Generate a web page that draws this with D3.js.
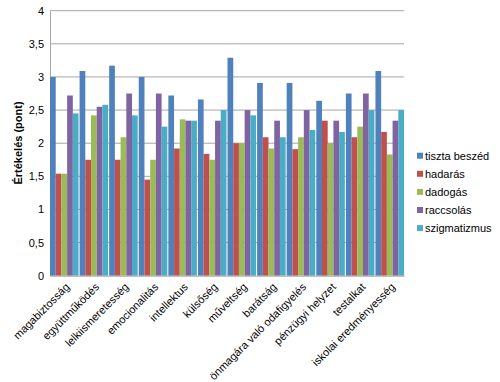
<!DOCTYPE html>
<html>
<head>
<meta charset="utf-8">
<script src="https://cdn.jsdelivr.net/npm/d3@7"></script>
<style>
body{margin:0;background:#fff;}
text{font-family:"Liberation Sans",Arial,sans-serif;}
</style>
</head>
<body>
<svg id="chart" width="500" height="382"></svg>
<script>
const categories = ["magabiztosság","együttműködés","lelkiismeretesség","emocionalitás","intellektus","külsőség","műveltség","barátság","önmagára való odafigyelés","pénzügyi helyzet","testalkat","iskolai eredményesség"];
const seriesNames = ["tiszta beszéd","hadarás","dadogás","raccsolás","szigmatizmus"];
const tisztaBeszed = [3.00,3.09,3.17,3.00,2.72,2.66,3.29,2.91,2.91,2.64,2.75,3.09];
const hadaras      = [1.54,1.75,1.75,1.45,1.92,1.84,2.00,2.09,1.91,2.34,2.09,2.17];
const dadogas      = [1.54,2.42,2.09,1.75,2.36,1.75,2.00,1.92,2.09,2.00,2.25,1.83];
const raccsolas    = [2.72,2.55,2.75,2.75,2.34,2.34,2.50,2.34,2.50,2.34,2.75,2.34];
const szigmatizmus = [2.45,2.58,2.42,2.25,2.34,2.50,2.42,2.09,2.20,2.17,2.50,2.50];
const yTicks = [0,0.5,1,1.5,2,2.5,3,3.5,4];
const colors = ["#4F81BD","#C0504D","#9BBB59","#8064A2","#4BACC6"];

const seriesValues = [tisztaBeszed,hadaras,dadogas,raccsolas,szigmatizmus];
const svg = d3.select("#chart");
const L = 50, R = 404, T = 10.7, B = 275.7;

const x = d3.scaleBand().domain(categories).range([L,R]).paddingInner(0.035).paddingOuter(0);
const xs = d3.scaleBand().domain(seriesNames).range([0,x.bandwidth()]).padding(0);
const y = d3.scaleLinear().domain([0,4]).range([B,T]);

// gridlines
svg.append("g").selectAll("line").data(yTicks.filter(d=>d>0)).join("line")
  .attr("x1",L).attr("x2",R).attr("y1",d=>y(d)).attr("y2",d=>y(d))
  .attr("stroke","#a6a6a6").attr("stroke-width",1);

// y axis
const yAxis = d3.axisLeft(y).tickValues(yTicks).tickSize(0).tickPadding(6)
  .tickFormat(d=>String(d).replace(".",","));
const gy = svg.append("g").attr("transform",`translate(${L},0)`).call(yAxis);
gy.select(".domain").attr("stroke","#a6a6a6");
gy.selectAll("text").attr("font-size","11px").attr("fill","#000");

// bars
const table = [];
categories.forEach((c,i)=>seriesNames.forEach((s,j)=>table.push({c,s,v:seriesValues[j][i],j})));
svg.append("g").selectAll("rect").data(table).join("rect")
  .attr("x",d=>x(d.c)+xs(d.s)).attr("width",xs.bandwidth())
  .attr("y",d=>y(d.v)).attr("height",d=>y(0)-y(d.v))
  .attr("fill",d=>colors[d.j]);

// x axis
const xAxis = d3.axisBottom(x).tickSize(0).tickPadding(0);
const gx = svg.append("g").attr("transform",`translate(0,${B})`).call(xAxis);
gx.select(".domain").attr("stroke","#a6a6a6");
gx.selectAll("text").attr("font-size","11px").attr("fill","#000")
  .attr("text-anchor","end").attr("dy","0")
  .attr("transform","translate(6,12) rotate(-45)");

// y title
svg.append("text").attr("transform","translate(22,143) rotate(-90)")
  .attr("text-anchor","middle").attr("font-size","11px").attr("font-weight","bold")
  .text("Értékelés (pont)");

// legend
const lg = svg.append("g").selectAll("g").data(seriesNames).join("g")
  .attr("transform",(d,i)=>`translate(417,${155.7+i*18.1})`);
lg.append("rect").attr("x",0).attr("y",-3).attr("width",6).attr("height",6).attr("fill",(d,i)=>colors[i]);
lg.append("text").attr("x",8).attr("y",0).attr("dy","0.35em").attr("font-size","11px").text(d=>d);
</script>
</body>
</html>
